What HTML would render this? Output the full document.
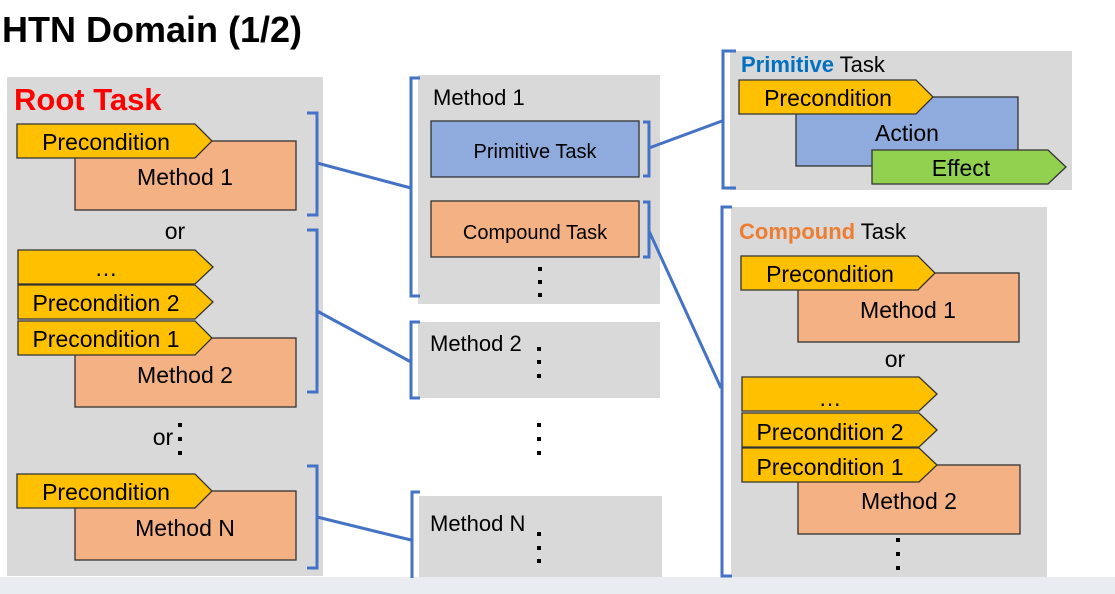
<!DOCTYPE html>
<html><head><meta charset="utf-8"><style>
html,body{margin:0;padding:0;background:#fff;}
svg{display:block;font-family:"Liberation Sans",Arial,sans-serif;}
</style></head><body>
<svg width="1115" height="594" viewBox="0 0 1115 594" xmlns="http://www.w3.org/2000/svg">
<rect x="0" y="577" width="1115" height="17" fill="#e9edf1"/>
<text x="2" y="42" font-size="36" font-weight="bold" fill="#000">HTN Domain (1/2)</text>

<!-- panels -->
<rect x="7" y="77" width="316" height="499" fill="#d9d9d9"/>
<rect x="418" y="75" width="242" height="229" fill="#d9d9d9"/>
<rect x="418" y="322" width="242" height="76" fill="#d9d9d9"/>
<rect x="419" y="496" width="243" height="81" fill="#d9d9d9"/>
<rect x="730" y="51" width="342" height="139" fill="#d9d9d9"/>
<rect x="731" y="207" width="316" height="370" fill="#d9d9d9"/>

<!-- Root panel -->
<text x="14" y="110" font-size="31" font-weight="bold" fill="#ff0000">Root Task</text>
<g stroke="#333" stroke-width="1.3">
<rect x="75" y="141" width="221" height="69" fill="#f4b183"/>
<polygon points="17,124 195,124 212,141 195,158 17,158" fill="#ffc000"/>
<rect x="75" y="338" width="221" height="69" fill="#f4b183"/>
<polygon points="18,250 195,250 213,267 195,284 18,284" fill="#ffc000"/>
<polygon points="18,285 195,285 213,302 195,319 18,319" fill="#ffc000"/>
<polygon points="18,321 195,321 212,338 195,355 18,355" fill="#ffc000"/>
<rect x="75" y="491" width="221" height="69" fill="#f4b183"/>
<polygon points="17,474 195,474 212,491 195,508 17,508" fill="#ffc000"/>
</g>
<g font-size="23" fill="#000" text-anchor="middle">
<text x="106" y="150">Precondition</text>
<text x="185" y="185">Method 1</text>
<text x="175" y="239">or</text>
<text x="106" y="276">…</text>
<text x="106" y="311">Precondition 2</text>
<text x="106" y="347">Precondition 1</text>
<text x="185" y="383">Method 2</text>
<text x="163" y="445">or</text>
<text x="106" y="500">Precondition</text>
<text x="185" y="536">Method N</text>
</g>
<g fill="#000"><rect x="178" y="423" width="4" height="4"/><rect x="178" y="437" width="4" height="4"/><rect x="178" y="451" width="4" height="4"/></g>

<!-- Middle content -->
<rect x="431" y="121" width="208" height="56" fill="#8faadc" stroke="#333" stroke-width="1.3"/>
<rect x="431" y="201" width="208" height="56" fill="#f4b183" stroke="#333" stroke-width="1.3"/>
<g font-size="22" fill="#000">
<text x="433" y="105">Method 1</text>
<text x="430" y="351">Method 2</text>
<text x="430" y="531">Method N</text>
</g>
<g font-size="20" fill="#000" text-anchor="middle">
<text x="535" y="158">Primitive Task</text>
<text x="535" y="239">Compound Task</text>
</g>
<g fill="#000">
<rect x="538" y="267" width="4" height="4"/><rect x="538" y="280" width="4" height="4"/><rect x="538" y="293" width="4" height="4"/>
<rect x="537" y="347" width="4" height="4"/><rect x="537" y="360" width="4" height="4"/><rect x="537" y="374" width="4" height="4"/>
<rect x="537" y="423" width="4" height="4"/><rect x="537" y="437" width="4" height="4"/><rect x="537" y="451" width="4" height="4"/>
<rect x="537" y="532" width="4" height="4"/><rect x="537" y="546" width="4" height="4"/><rect x="537" y="559" width="4" height="4"/>
</g>

<!-- Brackets and connectors -->
<g fill="none" stroke="#4472c4" stroke-width="3">
<path d="M307,113 H317 V215 H307"/>
<path d="M307,230 H317 V392 H307"/>
<path d="M307,466 H317 V568 H307"/>
<line x1="317" y1="163" x2="411" y2="188"/>
<line x1="317" y1="311" x2="411" y2="362"/>
<line x1="317" y1="517" x2="411" y2="540"/>
<path d="M420,78 H411 V296 H420"/>
<path d="M420,322 H411 V398 H420"/>
<path d="M420,492 H412 V578"/>
<path d="M643,122 H649 V176 H643"/>
<path d="M643,202 H649 V257 H643"/>
<line x1="649" y1="148" x2="722" y2="121"/>
<line x1="649" y1="231" x2="721" y2="388"/>
<path d="M736,51 H723 V188 H736"/>
<path d="M732,207 H722 V576 H732"/>
</g>

<!-- Primitive panel -->
<text x="741" y="72" font-size="22" fill="#000"><tspan font-weight="bold" fill="#0070c0">Primitive</tspan> Task</text>
<g stroke="#333" stroke-width="1.3">
<rect x="796" y="97" width="222" height="69" fill="#8faadc"/>
<polygon points="739,80 916,80 933,97 916,114 739,114" fill="#ffc000"/>
<polygon points="872,150 1048,150 1066,167 1048,184 872,184" fill="#92d050"/>
</g>
<g font-size="23" fill="#000" text-anchor="middle">
<text x="828" y="106">Precondition</text>
<text x="907" y="141">Action</text>
<text x="961" y="176">Effect</text>
</g>

<!-- Compound panel -->
<text x="739" y="239" font-size="22" fill="#000"><tspan font-weight="bold" fill="#ed7d31">Compound</tspan> Task</text>
<g stroke="#333" stroke-width="1.3">
<rect x="798" y="273" width="221" height="69" fill="#f4b183"/>
<polygon points="741,256 918,256 935,273 918,290 741,290" fill="#ffc000"/>
<rect x="798" y="465" width="222" height="69" fill="#f4b183"/>
<polygon points="742,377 919,377 937,394 919,411 742,411" fill="#ffc000"/>
<polygon points="742,413 919,413 937,430 919,447 742,447" fill="#ffc000"/>
<polygon points="742,448 919,448 937,465 919,482 742,482" fill="#ffc000"/>
</g>
<g font-size="23" fill="#000" text-anchor="middle">
<text x="830" y="282">Precondition</text>
<text x="908" y="318">Method 1</text>
<text x="895" y="367">or</text>
<text x="830" y="406">…</text>
<text x="830" y="440">Precondition 2</text>
<text x="830" y="475">Precondition 1</text>
<text x="909" y="509">Method 2</text>
</g>
<g fill="#000"><rect x="896" y="538" width="4" height="4"/><rect x="896" y="552" width="4" height="4"/><rect x="896" y="566" width="4" height="4"/></g>
</svg>
</body></html>
